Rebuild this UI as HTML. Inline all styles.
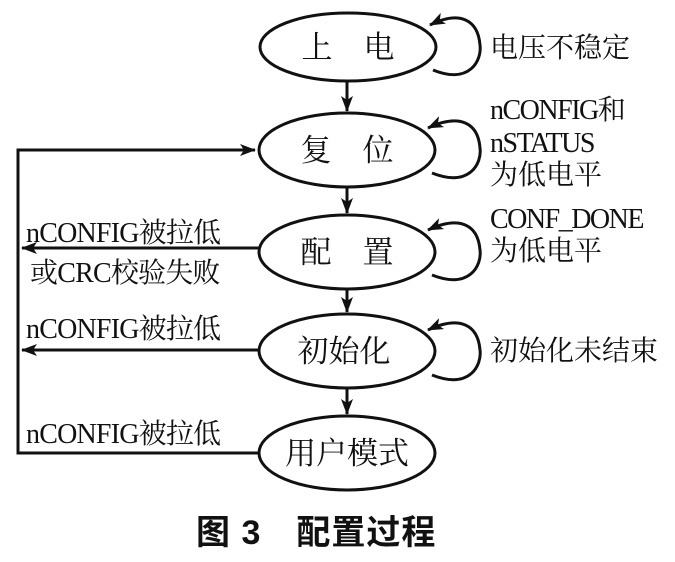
<!DOCTYPE html>
<html><head><meta charset="utf-8"><style>
body{margin:0;background:#fff;}
svg{display:block}
text{font-family:"Liberation Serif","Noto Serif CJK SC",serif;fill:#111;}
</style></head><body>
<svg width="675" height="562" viewBox="0 0 675 562" xmlns="http://www.w3.org/2000/svg">
<defs>
<marker id="b" markerWidth="16" markerHeight="12" refX="15" refY="6" orient="auto" markerUnits="userSpaceOnUse" viewBox="0 0 16 12"><path d="M0,0 L16,6 L0,12 L4,6 z" fill="#111"/></marker></defs>
<g fill="none" stroke="#111" stroke-width="3">
<ellipse cx="348" cy="47" rx="88" ry="34"/>
<ellipse cx="347" cy="150" rx="88" ry="37"/>
<ellipse cx="347" cy="252" rx="88" ry="37"/>
<ellipse cx="347" cy="351" rx="88" ry="37"/>
<ellipse cx="347" cy="453" rx="88" ry="37"/>
<line x1="347" y1="82" x2="347" y2="111" marker-end="url(#b)"/>
<line x1="347" y1="188" x2="347" y2="213" marker-end="url(#b)"/>
<line x1="347" y1="290" x2="347" y2="312" marker-end="url(#b)"/>
<line x1="347" y1="389" x2="347" y2="414" marker-end="url(#b)"/>
<polyline points="259,453 18,453 18,150 255,150" marker-end="url(#b)"/>
<line x1="259" y1="248" x2="22" y2="248" marker-end="url(#b)"/>
<line x1="259" y1="350" x2="22" y2="350" marker-end="url(#b)"/>
<path d="M433,70 C470,85 482,60 480,45 C478,20 460,10 430,25" marker-end="url(#b)"/>
<path d="M432,173 C470,188 482,163 480,148 C478,123 460,113 428,128" marker-end="url(#b)"/>
<path d="M432,275 C470,290 482,265 480,250 C478,225 460,215 428,230" marker-end="url(#b)"/>
<path d="M432,375 C470,390 482,365 480,350 C478,325 460,315 428,330" marker-end="url(#b)"/>
</g>
<g font-size="31" text-anchor="middle">
<text x="348" y="58">上　电</text>
<text x="347" y="161">复　位</text>
<text x="347" y="263">配　置</text>
<text x="344" y="362">初始化</text>
<text x="347" y="464">用户模式</text>
</g>
<g font-size="28">
<text x="490" y="57">电压不稳定</text>
<text x="490" y="119" letter-spacing="-1.5">nCONFIG和</text>
<text x="490" y="152" letter-spacing="-1.5">nSTATUS</text>
<text x="490" y="184">为低电平</text>
<text x="490" y="228" letter-spacing="-1.5">CONF_DONE</text>
<text x="490" y="260">为低电平</text>
<text x="490" y="360">初始化未结束</text>
<text x="26" y="242" letter-spacing="-0.8">nCONFIG被拉低</text>
<text x="30" y="282" letter-spacing="-0.8">或CRC校验失败</text>
<text x="26" y="338" letter-spacing="-0.8">nCONFIG被拉低</text>
<text x="26" y="443" letter-spacing="-0.8">nCONFIG被拉低</text>
</g>
<text x="196" y="544" font-size="34" font-weight="bold" letter-spacing="1" style="font-family:'Liberation Sans','Noto Sans CJK SC',sans-serif">图 3　配置过程</text>
</svg>
</body></html>
